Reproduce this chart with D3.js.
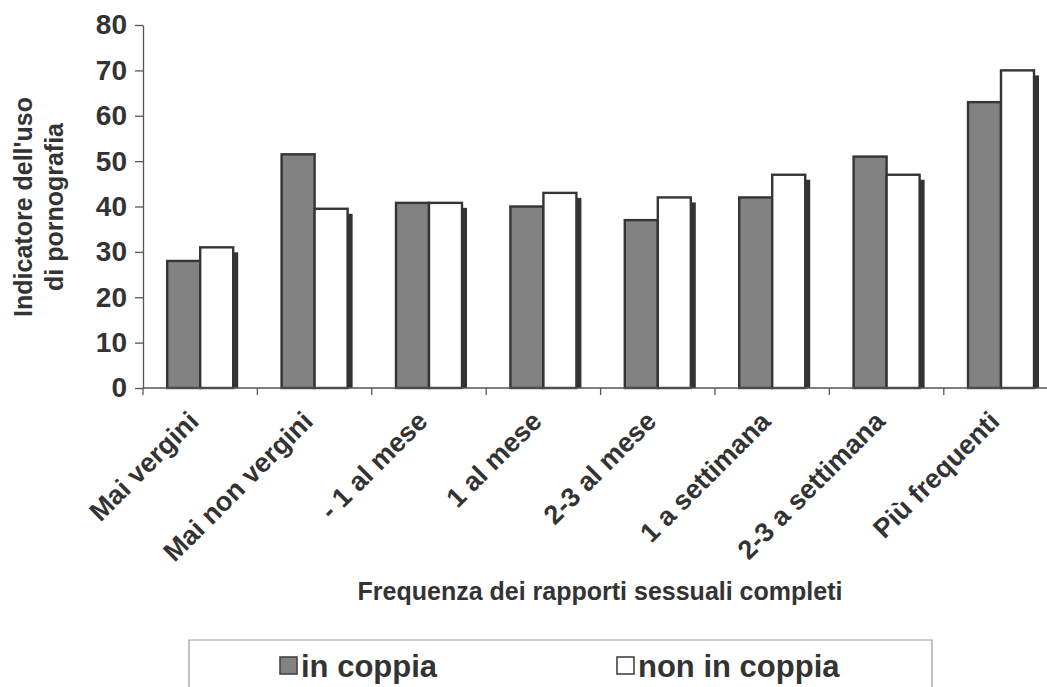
<!DOCTYPE html>
<html>
<head>
<meta charset="utf-8">
<script src="https://cdn.jsdelivr.net/npm/d3@7"></script>
<style>
  html, body { margin: 0; padding: 0; background: #fff; }
  svg { display: block; }
  text { font-family: "Liberation Sans", Arial, sans-serif; font-weight: bold; fill: #333; }
</style>
</head>
<body>
<svg id="chart" width="1047" height="687"></svg>
<script>
const categories = ["Mai vergini", "Mai non vergini", "- 1 al mese", "1 al mese", "2-3 al mese", "1 a settimana", "2-3 a settimana", "Più frequenti"];
const inCoppia    = [28, 51.5, 40.8, 40, 37, 42, 51, 63];
const nonInCoppia = [31, 39.5, 40.8, 43, 42, 47, 47, 70];
const seriesNames = ["in coppia", "non in coppia"];
const yTicks = [0, 10, 20, 30, 40, 50, 60, 70, 80];
const yTitleLines = ["Indicatore dell'uso", "di pornografia"];
const xTitle = "Frequenza dei rapporti sessuali completi";

const W = 1047, H = 687;
const plot = { left: 143, top: 25, bottom: 388, step: 114.4 };
const svg = d3.select("#chart");

const x = d3.scaleBand().domain(categories)
  .range([plot.left, plot.left + plot.step * categories.length]).padding(0);
const x1 = d3.scaleBand().domain(seriesNames).range([0, x.bandwidth()])
  .paddingInner(0).paddingOuter(0.733);
const y = d3.scaleLinear().domain([0, 80]).range([plot.bottom, plot.top]);

const data = categories.map((c, i) => ({ cat: c, vals: [inCoppia[i], nonInCoppia[i]] }));

// shadows (behind white bars)
const g = svg.append("g");
g.selectAll("rect.shadow").data(data).join("rect")
  .attr("class", "shadow")
  .attr("x", d => x(d.cat) + x1(seriesNames[1]) + x1.bandwidth())
  .attr("y", d => y(d.vals[1]) + 5)
  .attr("width", 5)
  .attr("height", d => y(0) - y(d.vals[1]) - 5)
  .attr("fill", "#333");

// bars
const groups = g.selectAll("g.grp").data(data).join("g").attr("class", "grp")
  .attr("transform", d => `translate(${x(d.cat)},0)`);
groups.selectAll("rect.bar").data(d => d.vals.map((v, k) => ({ s: seriesNames[k], v, k })))
  .join("rect").attr("class", "bar")
  .attr("x", d => x1(d.s))
  .attr("y", d => y(d.v))
  .attr("width", x1.bandwidth())
  .attr("height", d => y(0) - y(d.v))
  .attr("fill", d => d.k === 0 ? "#828282" : "#ffffff")
  .attr("stroke", "#353535")
  .attr("stroke-width", 2.4);

// y axis
const yAxis = svg.append("g").attr("transform", `translate(${plot.left},0)`)
  .call(d3.axisLeft(y).tickValues(yTicks).tickSize(8).tickSizeOuter(0).tickPadding(8).tickFormat(d3.format("d")));
yAxis.select(".domain").attr("stroke", "#555").attr("stroke-width", 1.3);
yAxis.selectAll(".tick line").attr("stroke", "#555").attr("stroke-width", 1.3);
yAxis.selectAll(".tick text").style("font-size", "28px").attr("fill", "#333");

// x axis
svg.append("line").attr("x1", plot.left).attr("x2", W)
  .attr("y1", y(0)).attr("y2", y(0)).attr("stroke", "#555").attr("stroke-width", 1.3);
svg.selectAll("line.xtick").data(d3.range(categories.length + 1)).join("line")
  .attr("class", "xtick")
  .attr("x1", i => plot.left + x.step() * i).attr("x2", i => plot.left + x.step() * i)
  .attr("y1", y(0)).attr("y2", y(0) + 7)
  .attr("stroke", "#555").attr("stroke-width", 1.3);

// x tick labels
svg.selectAll("text.xlab").data(categories).join("text")
  .attr("class", "xlab")
  .attr("text-anchor", "end")
  .attr("transform", c => `translate(${x(c) + x.bandwidth() / 2},423) rotate(-45)`)
  .style("font-size", "27px")
  .text(c => c);

// x title
svg.append("text").attr("x", 600).attr("y", 600).attr("text-anchor", "middle")
  .style("font-size", "25px").text(xTitle);

// y title
yTitleLines.forEach((t, i) => {
  svg.append("text").attr("text-anchor", "middle")
    .attr("transform", `translate(${32 + i * 31},207) rotate(-90)`)
    .style("font-size", "25px").text(t);
});

// legend
svg.append("path").attr("d", `M189,${H} V640 H932 V${H}`)
  .attr("fill", "none").attr("stroke", "#999").attr("stroke-width", 1.2);
const legendItems = [{ name: seriesNames[0], x: 280, fill: "#828282" }, { name: seriesNames[1], x: 617, fill: "#ffffff" }];
legendItems.forEach(it => {
  svg.append("rect").attr("x", it.x).attr("y", 657).attr("width", 17).attr("height", 17)
    .attr("fill", it.fill).attr("stroke", "#444").attr("stroke-width", 1.6);
  svg.append("text").attr("x", it.x + 21).attr("y", 677)
    .style("font-size", "31px").text(it.name);
});
</script>
</body>
</html>
